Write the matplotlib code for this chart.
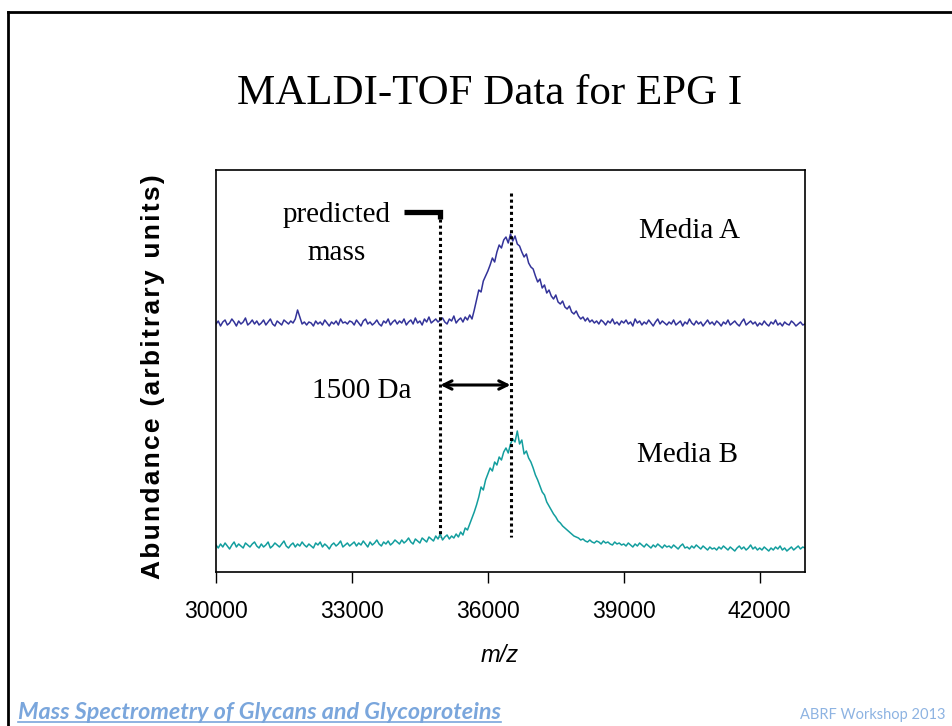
import numpy as np
import matplotlib
matplotlib.use("Agg")
import matplotlib.pyplot as plt
from matplotlib.lines import Line2D

# m/z grid (50 Da steps) and the two spectra (arbitrary units)
mz = np.arange(30000, 43050, 50)

media_a = [
    248, 251, 246, 250, 252, 247, 249, 253, 250, 246, 251, 248, 250, 254, 247, 249, 252, 248, 251, 247,
    249, 252, 247, 250, 253, 248, 246, 251, 249, 247, 252, 250, 248, 251, 249, 253, 262, 255, 248, 250,
    247, 250, 249, 246, 251, 248, 250, 247, 252, 249, 246, 250, 248, 251, 247, 253, 249, 250, 248, 251,
    250, 247, 252, 249, 246, 251, 253, 248, 250, 247, 249, 252, 248, 246, 251, 249, 253, 247, 250, 252,
    248, 251, 249, 253, 247, 250, 252, 248, 254, 249, 251, 247, 253, 250, 255, 249, 251, 253, 250, 252,
    254, 250, 248, 253, 251, 256, 249, 252, 254, 250, 255, 252, 257, 253, 262, 272, 282, 280, 291, 296,
    301, 307, 314, 310, 320, 327, 324, 332, 335, 329, 338, 331, 336, 328, 326, 320, 315, 318, 309, 305,
    303, 296, 290, 293, 284, 287, 279, 282, 276, 273, 277, 270, 268, 271, 265, 263, 266, 260, 258, 261,
    256, 253, 255, 251, 254, 250, 252, 249, 251, 248, 252, 250, 247, 251, 249, 253, 248, 250, 247, 251,
    249, 252, 248, 250, 246, 253, 249, 251, 247, 250, 248, 252, 249, 246, 250, 253, 248, 251, 249, 247,
    250, 248, 252, 247, 249, 251, 246, 250, 248, 253, 249, 247, 251, 248, 250, 246, 249, 252, 248, 250,
    247, 251, 249, 246, 250, 248, 252, 247, 249, 251, 248, 246, 250, 253, 247, 249, 251, 248, 250, 246,
    249, 247, 251, 248, 246, 250, 248, 252, 247, 249, 246, 250, 248, 247, 251, 249, 246, 248, 250, 247,
    248,
]

media_b = [
    27, 24, 28, 25, 29, 26, 23, 27, 30, 25, 28, 26, 24, 29, 27, 25, 28, 30, 26, 24,
    28, 25, 27, 30, 24, 26, 29, 27, 25, 28, 31, 26, 24, 27, 29, 25, 28, 26, 30, 27,
    25, 28, 26, 24, 29, 27, 30, 25, 28, 26, 23, 27, 29, 26, 28, 31, 25, 27, 29, 26,
    28, 30, 26, 29, 27, 31, 28, 25, 30, 27, 29, 32, 28, 26, 30, 28, 31, 27, 29, 32,
    30, 28, 32, 29, 31, 34, 30, 28, 33, 31, 29, 34, 32, 30, 35, 33, 31, 36, 33, 38,
    32, 35, 37, 33, 36, 34, 38, 35, 40, 37, 44, 42, 48, 54, 60, 67, 75, 85, 82, 92,
    98, 104, 101, 110, 107, 115, 112, 120, 124, 119, 128, 133, 130, 141, 128, 132, 118, 121, 114, 110,
    104, 97, 92, 86, 80, 77, 70, 66, 62, 58, 55, 51, 49, 46, 44, 42, 40, 38, 36, 35,
    34, 32, 33, 31, 30, 32, 30, 29, 31, 30, 28, 31, 29, 30, 28, 27, 30, 28, 29, 27,
    28, 26, 29, 27, 25, 28, 26, 29, 27, 25, 28, 26, 24, 27, 25, 28, 26, 24, 27, 25,
    26, 24, 27, 25, 23, 26, 28, 24, 25, 23, 26, 24, 27, 25, 23, 26, 24, 22, 25, 23,
    24, 22, 25, 23, 26, 24, 22, 25, 23, 21, 24, 26, 23, 25, 22, 24, 27, 23, 25, 22,
    24, 22, 25, 23, 21, 24, 22, 25, 23, 26, 22, 24, 21, 23, 25, 22, 24, 26, 23, 25,
    24,
]

xticks = [30000, 33000, 36000, 39000, 42000]
predicted_mz = 34950
observed_mz = 36500
ylabel = "Abundance (arbitrary units)"

fig = plt.figure(figsize=(9.52, 7.26), dpi=100)
W, H = 952, 726

# slide frame (left and top edges only)
fig.add_artist(Line2D([8 / W, 8 / W], [0, 1 - 12 / H], color="black", lw=2))
fig.add_artist(Line2D([8 / W, 1], [1 - 12 / H, 1 - 12 / H], color="black", lw=2))

fig.text(490 / W, 1 - 104 / H, "MALDI-TOF Data for EPG I", ha="center", va="baseline",
         fontsize=31, family="Liberation Serif")

ax = fig.add_axes([216 / W, 1 - 572 / H, 589 / W, 402 / H])
ax.plot(mz, media_a, color="#333399", lw=1.1)
ax.plot(mz, media_b, color="#139e9e", lw=1.1)
ax.set_xlim(30000, 43000)
ax.set_ylim(0, 402)
ax.set_yticks([])
ax.set_xticks(xticks)
ax.tick_params(axis="x", direction="out", length=8, width=1, pad=12, labelsize=16.5)
for lab in ax.get_xticklabels():
    lab.set_family("Liberation Sans")
for s in ax.spines.values():
    s.set_linewidth(1.2)

# dotted markers, bracket and the 1500 Da arrow
ax.plot([34150, predicted_mz, predicted_mz], [360, 360, 353], color="black", lw=3.8,
        solid_capstyle="butt", solid_joinstyle="miter")
ax.plot([predicted_mz, predicted_mz], [353, 35], color="black", lw=2.2, ls=(0, (1, 1)))
ax.plot([observed_mz, observed_mz], [379, 35], color="black", lw=2.2, ls=(0, (1, 1)))
ax.annotate("", xy=(predicted_mz, 187), xytext=(observed_mz, 187),
            arrowprops=dict(arrowstyle="<->,head_length=0.6,head_width=0.3", lw=2.2,
                            color="black", shrinkA=0, shrinkB=0))

serif = dict(family="Liberation Serif", fontsize=21, ha="center", va="baseline")
ax.text(32670, 350, "predicted", **serif)
ax.text(32670, 312, "mass", **serif)
ax.text(33220, 174, "1500 Da", **serif)
ax.text(40450, 334, "Media A", **serif)
ax.text(40400, 110, "Media B", **serif)

# letter-spaced axis title (hair spaces between the characters)
fig.text(153 / W, 1 - 377 / H, "\u200a".join(ylabel), rotation=90, ha="center",
         va="center", fontsize=19, fontweight="bold",
         family=["Liberation Sans", "DejaVu Sans"])
fig.text(500 / W, 1 - 655 / H, "m/z", ha="center", va="center", fontsize=17,
         style="italic", family="Liberation Sans")

# footer
foot = fig.text(18 / W, 1 - 719 / H, "Mass Spectrometry of Glycans and Glycoproteins",
                ha="left", va="baseline", fontsize=16.8, fontweight="bold", style="italic",
                family="Lato", color="#7aa6dc")
fig.text(945 / W, 1 - 719 / H, "ABRF Workshop 2013", ha="right", va="baseline",
         fontsize=10.5, family="Lato", color="#8db3e2")

fig.canvas.draw()
bb = foot.get_window_extent()
uy = (H - 722) / H
fig.add_artist(Line2D([bb.x0 / W, bb.x1 / W], [uy, uy], color="#7aa6dc", lw=1.2))

fig.savefig("out.png", dpi=100)
